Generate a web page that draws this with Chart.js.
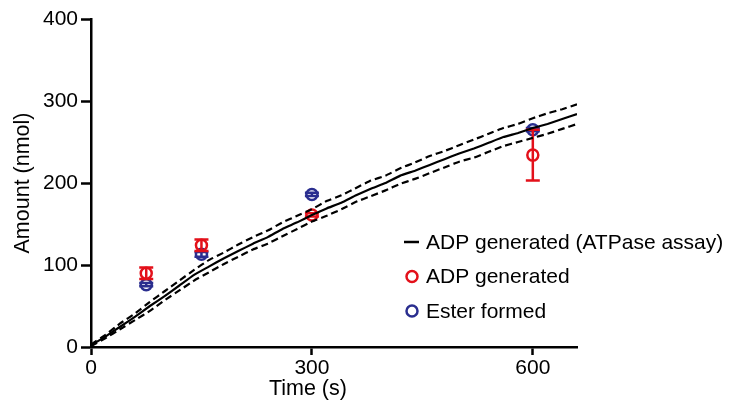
<!DOCTYPE html>
<html>
<head>
<meta charset="utf-8">
<script src="https://cdn.jsdelivr.net/npm/chart.js@4.4.1/dist/chart.umd.min.js"></script>
<style>
    html, body { margin: 0; padding: 0; background: #fff; }
    #wrap { width: 731px; height: 402px; }
</style>
</head>
<body>
<div id="wrap"><canvas id="amountChart" width="731" height="402"></canvas></div>
<script>
// ATPase assay trace (s, nmol) with its upper / lower bounds
const timeSeconds = [0, 20, 40, 60, 80, 100, 120, 140, 160, 180, 200, 220, 240, 260, 280, 300, 320,
    340, 360, 380, 400, 420, 440, 460, 480, 500, 520, 540, 560, 580, 600, 620, 640, 660];
const atpaseMean  = [2, 13, 25, 37, 50, 62, 75, 88, 98, 108, 117, 126, 134, 144, 152, 161, 169,
    176, 185, 193, 200, 209, 215, 222, 229, 236, 242, 249, 256, 261, 267, 272, 278, 284];
const atpaseUpper = [3, 15, 29, 41, 55, 68, 81, 94, 106, 115, 125, 134, 142, 152, 160, 168, 178,
    185, 194, 203, 209, 218, 225, 233, 239, 246, 253, 260, 267, 272, 279, 285, 290, 296];
const atpaseLower = [1, 11, 22, 33, 44, 57, 69, 81, 91, 101, 110, 119, 126, 135, 144, 153, 160,
    168, 177, 184, 191, 199, 205, 212, 219, 226, 231, 238, 245, 250, 255, 260, 266, 272];

// discrete measurements
const sampleTimes  = [75, 150, 300, 600];
const adpValues    = [90, 124, 161, 234];
const adpErrors    = [7, 7, 2, 31];
const esterValues  = [76, 113, 186, 265];
const esterErrors  = [2, 3, 2, 2];

const xTicks = [0, 300, 600];
const yTicks = [0, 100, 200, 300, 400];

const RED = '#e3101a';
const BLUE = '#2a2e8f';
const FONT = "'Liberation Sans', Arial, sans-serif";

document.addEventListener("DOMContentLoaded", ()=>{
    new amountChart(document.getElementById('amountChart'));
});

const toXY = (xs, ys) => xs.map((x, i) => ({x: x, y: ys[i]}));

// vertical error bars with caps, drawn right after their own dataset
const errorBarPlugin = {
    id: 'errorBars',
    afterDatasetDraw(chart, args){
        const ds = chart.data.datasets[args.index];
        if (!ds.errors) return;
        const {ctx, scales:{x, y}} = chart;
        ctx.save();
        ctx.strokeStyle = ds.borderColor;
        ctx.lineWidth = 2.5;
        ds.data.forEach((pt, i)=>{
            const px = x.getPixelForValue(pt.x);
            const top = y.getPixelForValue(pt.y + ds.errors[i]);
            const bot = y.getPixelForValue(pt.y - ds.errors[i]);
            ctx.beginPath();
            ctx.moveTo(px, top); ctx.lineTo(px, bot);
            ctx.moveTo(px - 7, top); ctx.lineTo(px + 7, top);
            ctx.moveTo(px - 7, bot); ctx.lineTo(px + 7, bot);
            ctx.stroke();
        });
        ctx.restore();
    }
};

// legend on the right + x axis title
const sideLegendPlugin = {
    id: 'sideLegend',
    afterDraw(chart){
        const {ctx, chartArea, scales:{x}} = chart;
        const items = chart.data.datasets.filter(d => d.inLegend);
        ctx.save();
        ctx.font = `21px ${FONT}`;
        ctx.textBaseline = 'middle';
        ctx.fillStyle = '#000';
        items.forEach((d, i)=>{
            const cy = 242 + i * 34.5;
            if (d.showLine === false){
                ctx.beginPath();
                ctx.strokeStyle = d.borderColor;
                ctx.lineWidth = 2.5;
                ctx.arc(412, cy, 5.5, 0, Math.PI * 2);
                ctx.stroke();
            } else {
                ctx.beginPath();
                ctx.strokeStyle = '#000';
                ctx.lineWidth = 2.5;
                ctx.moveTo(404, cy); ctx.lineTo(419, cy);
                ctx.stroke();
            }
            ctx.fillStyle = '#000';
            ctx.fillText(d.label, 426, cy + 1);
        });
        // x title sits under the 0..600 range, a bit left of centre
        ctx.font = `21.5px ${FONT}`;
        ctx.textAlign = 'center';
        const mid = (chartArea.left + x.getPixelForValue(600)) / 2 - 4;
        ctx.fillText('Time (s)', mid, 389);
        ctx.restore();
    }
};

class amountChart{
    #chart = null;
    constructor(canvas){
        this.#chart = new Chart(canvas.getContext('2d'), this.#config());
    }
    #config(){
        const dashed = {
            type: 'line', showLine: true, borderColor: '#000', borderWidth: 2.2,
            borderDash: [7, 4], pointRadius: 0, fill: false, tension: 0.1
        };
        return {
            type: 'scatter',
            data: {
                datasets: [
                    Object.assign({label: 'upper', data: toXY(timeSeconds, atpaseUpper)}, dashed),
                    Object.assign({label: 'lower', data: toXY(timeSeconds, atpaseLower)}, dashed),
                    {
                        type: 'line', label: 'ADP generated (ATPase assay)', inLegend: true,
                        data: toXY(timeSeconds, atpaseMean), showLine: true,
                        borderColor: '#000', borderWidth: 2.2, pointRadius: 0, tension: 0.1
                    },
                    {
                        label: 'ADP generated', inLegend: true, showLine: false,
                        data: toXY(sampleTimes, adpValues), errors: adpErrors,
                        borderColor: RED, backgroundColor: 'rgba(0,0,0,0)',
                        pointRadius: 5.5, pointBorderWidth: 2.5, pointStyle: 'circle'
                    },
                    {
                        label: 'Ester formed', inLegend: true, showLine: false,
                        data: toXY(sampleTimes, esterValues), errors: esterErrors,
                        borderColor: BLUE, backgroundColor: 'rgba(0,0,0,0)',
                        pointRadius: 5.5, pointBorderWidth: 2.5, pointStyle: 'circle'
                    }
                ]
            },
            options: {
                responsive: false,
                animation: false,
                layout: {padding: {left: 0, top: 19, right: 154, bottom: 0}},
                plugins: {legend: {display: false}, tooltip: {enabled: false}},
                scales: {
                    x: {
                        type: 'linear', min: 0, max: 660,
                        afterBuildTicks: s => { s.ticks = xTicks.map(v => ({value: v})); },
                        afterFit: s => { s.height = 55; },
                        border: {display: true, color: '#000', width: 2.5},
                        grid: {display: true, drawOnChartArea: false, drawTicks: true,
                               tickLength: 8, tickWidth: 2.5, tickColor: '#000'},
                        ticks: {color: '#000', padding: 1, maxRotation: 0,
                                font: {family: FONT, size: 21}}
                    },
                    y: {
                        type: 'linear', min: 0, max: 400,
                        afterBuildTicks: s => { s.ticks = yTicks.map(v => ({value: v})); },
                        afterFit: s => { s.width = 91; },
                        border: {display: true, color: '#000', width: 2.5},
                        grid: {display: true, drawOnChartArea: false, drawTicks: true,
                               tickLength: 10, tickWidth: 2.5, tickColor: '#000'},
                        ticks: {color: '#000', padding: 3, font: {family: FONT, size: 21}},
                        title: {display: true, text: 'Amount (nmol)', color: '#000',
                                padding: {top: 10, bottom: 0},
                                font: {family: FONT, size: 21.5}}
                    }
                }
            },
            plugins: [errorBarPlugin, sideLegendPlugin]
        };
    }
}
</script>
</body>
</html>
